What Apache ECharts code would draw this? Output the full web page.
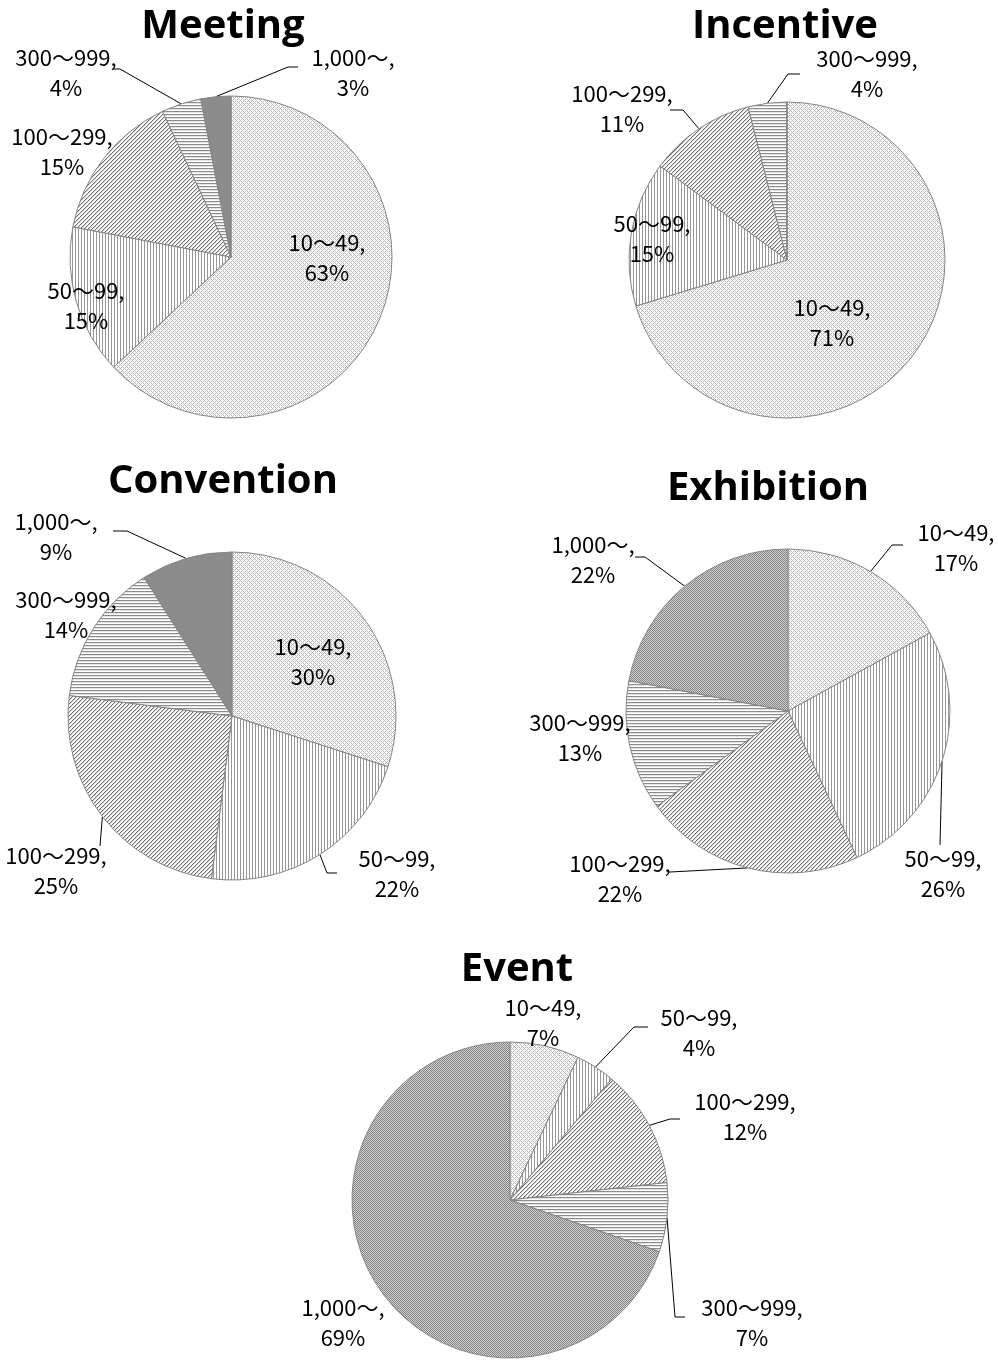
<!DOCTYPE html>
<html>
<head>
<meta charset="utf-8">
<script src="https://cdn.jsdelivr.net/npm/echarts@6/dist/echarts.min.js"></script>
<style>
  html, body { margin: 0; padding: 0; background: #fff; }
  #main { width: 998px; height: 1360px; }
</style>
</head>
<body>
<div id="main"></div>
<script>
// Size classes (participants) and share of events in each class, per MICE type
const categories = ['10～49', '50～99', '100～299', '300～999', '1,000～'];
const chartNames = ['Meeting', 'Incentive', 'Convention', 'Exhibition', 'Event'];
const meetingShare = [63, 15, 15, 4, 3];
const incentiveShare = [71, 15, 11, 4, 0];
const conventionShare = [30, 22, 25, 14, 9];
const exhibitionShare = [17, 26, 22, 13, 22];
const eventShare = [7, 4, 12, 7, 69];

const shares = [meetingShare, incentiveShare, conventionShare, exhibitionShare, eventShare];

// Small greyscale tiles used as hatch fills
function tile(w, h, shade) {
  const c = document.createElement('canvas');
  c.width = w; c.height = h;
  const ctx = c.getContext('2d');
  const img = ctx.createImageData(w, h);
  for (let y = 0; y < h; y++) {
    for (let x = 0; x < w; x++) {
      const v = shade(x, y);
      const i = (y * w + x) * 4;
      img.data[i] = img.data[i + 1] = img.data[i + 2] = v;
      img.data[i + 3] = 255;
    }
  }
  ctx.putImageData(img, 0, 0);
  return { image: c, repeat: 'repeat' };
}

const fills = {
  lattice: tile(4, 4, (x, y) => ((x + y) % 4 === 0 || (x - y + 4) % 4 === 0) ? 185 : 255),
  vertical: tile(3, 1, (x) => x === 0 ? 150 : 255),
  diagonal: tile(4, 4, (x, y) => (x + y) % 4 === 0 ? 110 : ((x + y) % 4 === 1 ? 210 : 255)),
  horizontal: tile(1, 3, (x, y) => y === 0 ? 140 : (y === 1 ? 228 : 255)),
  checker: tile(2, 2, (x, y) => (x + y) % 2 === 0 ? 130 : 210),
  solid: '#8c8c8c'
};

const fillSets = [
  ['lattice', 'vertical', 'diagonal', 'horizontal', 'solid'],
  ['lattice', 'vertical', 'diagonal', 'horizontal', 'solid'],
  ['lattice', 'vertical', 'diagonal', 'horizontal', 'solid'],
  ['lattice', 'vertical', 'diagonal', 'horizontal', 'checker'],
  ['lattice', 'vertical', 'diagonal', 'horizontal', 'checker']
];

// Pie placement, title anchor and label spots (label centre + leader bend/end)
const panels = [
  { center: [231, 257], r: 161, title: [218, 2],
    labels: [
      { at: [327, 258] },
      { at: [86, 306] },
      { at: [62, 152] },
      { at: [66, 73], leader: [[120, 69], [113, 69]] },
      { at: [353, 73], leader: [[288, 67], [298, 67]] }
    ] },
  { center: [787, 260], r: 158, title: [780, 2],
    labels: [
      { at: [832, 323] },
      { at: [652, 239] },
      { at: [622, 109], leader: [[683, 110], [670, 110]] },
      { at: [867, 74], leader: [[788, 74], [800, 74]] },
      null
    ] },
  { center: [232, 716], r: 164, title: [218, 457],
    labels: [
      { at: [313, 662] },
      { at: [397, 874], leader: [[327, 873], [337, 873]] },
      { at: [56, 871], leader: [[100, 846], [100, 846]] },
      { at: [66, 615] },
      { at: [56, 537], leader: [[127, 531], [113, 531]] }
    ] },
  { center: [788, 711], r: 162, title: [763, 464],
    labels: [
      { at: [956, 548], leader: [[892, 545], [903, 545]] },
      { at: [943, 874], leader: [[940, 845], [940, 845]] },
      { at: [620, 879], leader: [[670, 872], [668, 872]] },
      { at: [580, 738] },
      { at: [593, 560], leader: [[645, 557], [635, 557]] }
    ] },
  { center: [510, 1200], r: 158, title: [512, 945],
    labels: [
      { at: [543, 1023] },
      { at: [699, 1033], leader: [[634, 1027], [648, 1027]] },
      { at: [745, 1117], leader: [[670, 1119], [680, 1119]] },
      { at: [752, 1323], leader: [[675, 1317], [685, 1317]] },
      { at: [343, 1323] }
    ] }
];

const labelFont = "'Noto Sans CJK JP', 'Open Sans', sans-serif";
const titleFont = "'Open Sans', 'Noto Sans', sans-serif";

const chart = echarts.init(document.getElementById('main'), null, { renderer: 'canvas' });

const titles = chartNames.map((name, k) => ({
  text: name,
  left: panels[k].title[0],
  top: panels[k].title[1],
  textAlign: 'center',
  textStyle: { fontFamily: titleFont, fontSize: 40, fontWeight: 'bold', color: '#000' }
}));

const series = shares.map((vals, k) => {
  const cfg = panels[k];
  return {
    type: 'pie',
    center: cfg.center,
    radius: cfg.r,
    startAngle: 90,
    clockwise: true,
    avoidLabelOverlap: false,
    minShowLabelAngle: 0,
    silent: true,
    itemStyle: { borderColor: '#858585', borderWidth: 1 },
    label: {
      show: true,
      position: 'outside',
      formatter: '{b},\n{c}%',
      color: '#000',
      fontFamily: labelFont,
      fontSize: 22,
      lineHeight: 30
    },
    labelLine: { show: false, smooth: false, lineStyle: { color: '#000', width: 1 } },
    labelLayout: function (p) {
      const spot = cfg.labels[p.dataIndex];
      if (!spot) return {};
      const out = { x: spot.at[0], y: spot.at[1], align: 'center', verticalAlign: 'middle' };
      if (spot.leader && p.labelLinePoints && p.labelLinePoints.length) {
        out.labelLinePoints = [p.labelLinePoints[0]].concat(spot.leader);
      }
      return out;
    },
    data: vals.map((v, i) => ({
      name: categories[i],
      value: v,
      itemStyle: { color: fills[fillSets[k][i]] },
      label: { show: !!cfg.labels[i] },
      labelLine: { show: !!(cfg.labels[i] && cfg.labels[i].leader) }
    }))
  };
});

chart.setOption({
  animation: false,
  backgroundColor: '#fff',
  title: titles,
  series: series
});
</script>
</body>
</html>
